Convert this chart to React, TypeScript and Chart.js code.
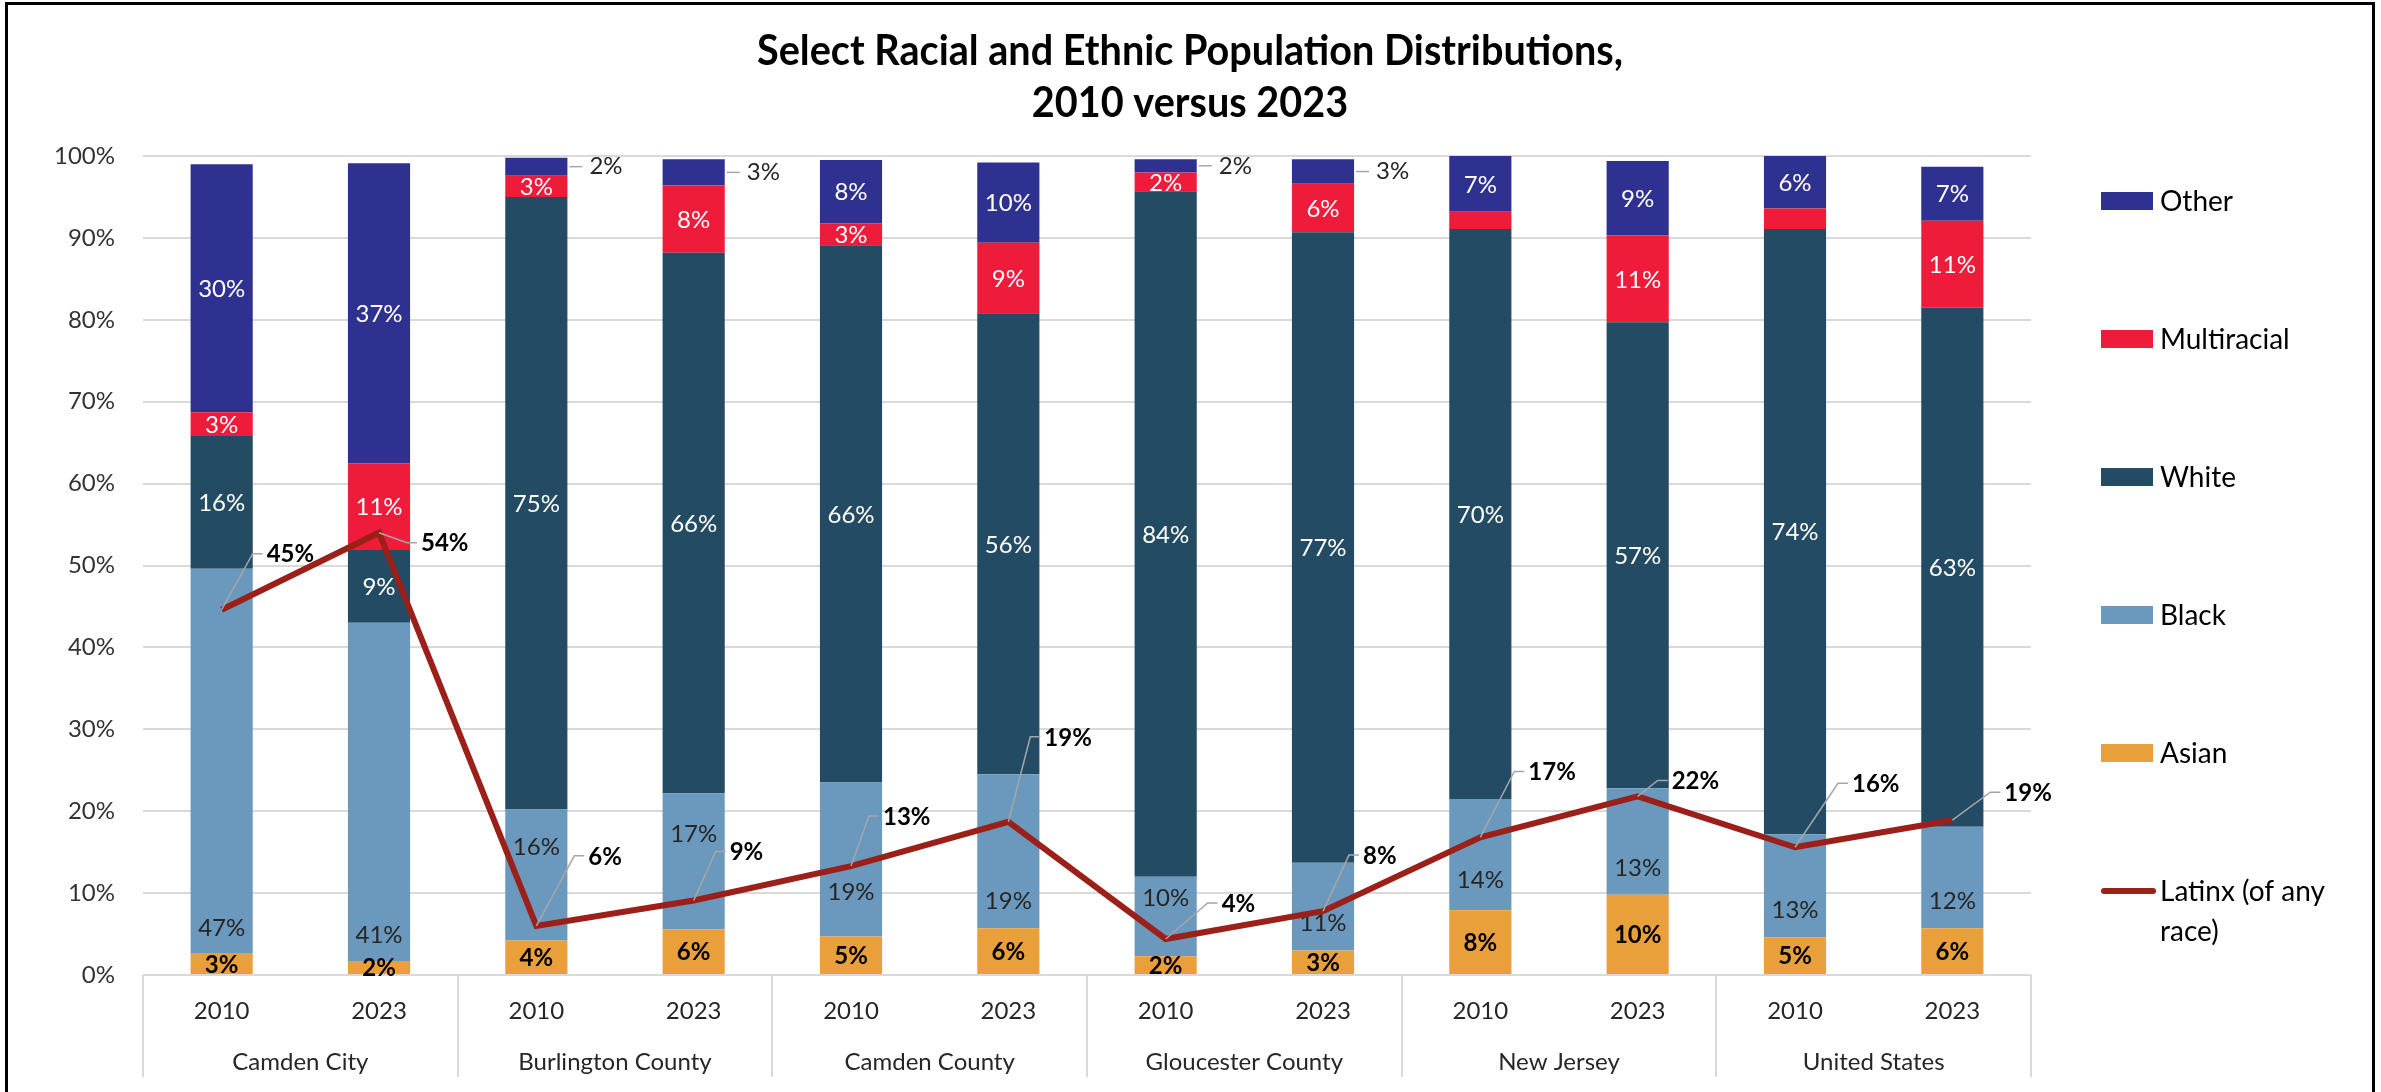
import React, { useEffect, useRef } from "react";
import { Chart, registerables } from "chart.js";

Chart.register(...registerables);

const groups = ["Camden City", "Burlington County", "Camden County", "Gloucester County", "New Jersey", "United States"];
const years = ["2010", "2023"];
const categories = groups.flatMap((g) => years.map((y) => `${g} ${y}`));

const asian = [2.6, 1.7, 4.2, 5.6, 4.7, 5.7, 2.3, 3.0, 7.9, 9.8, 4.6, 5.7];
const black = [47.0, 41.3, 16.0, 16.6, 18.8, 18.8, 9.7, 10.7, 13.6, 13.0, 12.6, 12.4];
const white = [16.2, 8.9, 74.8, 66.0, 65.6, 56.3, 83.7, 77.0, 69.6, 56.9, 73.9, 63.4];
const multiracial = [2.9, 10.6, 2.6, 8.2, 2.7, 8.6, 2.3, 5.9, 2.1, 10.6, 2.5, 10.6];
const other = [30.3, 36.6, 2.2, 3.2, 7.7, 9.8, 1.6, 3.0, 6.8, 9.1, 6.4, 6.6];
const latinx = [44.6, 54.0, 6.0, 9.1, 13.3, 18.7, 4.4, 7.8, 16.8, 21.8, 15.6, 18.9];

const yTicks = [0, 10, 20, 30, 40, 50, 60, 70, 80, 90, 100];
const hiddenMultiLabels = [8, 10];

const titleLines = ["Select Racial and Ethnic Population Distributions,", "2010 versus 2023"];

// Label placement, kept apart from the data.
const latinxLabelOffsets: [number, number][] = [
  [45, -56], [42, 10], [52, -70], [36, -49], [32, -50], [36, -85],
  [56, -36], [40, -56], [48, -66], [34, -16], [57, -64], [52, -28],
];
// Height (on the value axis) at which each "Black" label sits, as in the original.
const blackLabelLevels = [5.8, 5.0, 15.7, 17.3, 10.2, 9.1, 9.5, 6.4, 11.7, 13.1, 8.0, 9.1];

const COLORS = {
  asian: "#EAA03A",
  black: "#6A99BD",
  white: "#244B64",
  multi: "#EE1C3A",
  other: "#2F3190",
  latinx: "#9B2019",
  grid: "#D9D9D9",
  leader: "#A6A6A6",
};

const FONT = "Lato, 'Open Sans', sans-serif";

const pct = (v: number) => `${Math.round(v)}%`;

const overlayPlugin = {
  id: "overlay",
  beforeDatasetDraw(chart: any, args: any) {
    if (args.index !== 0) return;
    const ctx = chart.ctx;
    const ys = chart.scales.y;
    ctx.save();
    ctx.textBaseline = "middle";
    for (let d = 1; d <= 5; d++) {
      const meta = chart.getDatasetMeta(d);
      const values = chart.data.datasets[d].data as number[];
      meta.data.forEach((el: any, j: number) => {
        const v = values[j];
        let cy = (el.y + el.base) / 2;
        if (d === 4 && hiddenMultiLabels.includes(j)) return;
        if (d === 5 && v < 4) {
          const right = el.x + el.width / 2;
          ctx.strokeStyle = COLORS.leader;
          ctx.lineWidth = 1.5;
          ctx.beginPath();
          ctx.moveTo(right + 2, cy);
          ctx.lineTo(right + 15, cy);
          ctx.stroke();
          ctx.font = `24px ${FONT}`;
          ctx.fillStyle = "#262626";
          ctx.textAlign = "left";
          ctx.fillText(pct(v), right + 22, cy);
          return;
        }
        ctx.textAlign = "center";
        if (d === 1) {
          ctx.font = `bold 24px ${FONT}`;
          ctx.fillStyle = "#000";
        } else if (d === 2) {
          ctx.font = `24px ${FONT}`;
          ctx.fillStyle = "#262626";
          cy = ys.getPixelForValue(blackLabelLevels[j]);
        } else {
          ctx.font = `24px ${FONT}`;
          ctx.fillStyle = "#FFFFFF";
        }
        ctx.fillText(pct(v), el.x, cy + 1);
      });
    }
    ctx.restore();
  },
  afterDatasetsDraw(chart: any) {
    const ctx = chart.ctx;
    const meta = chart.getDatasetMeta(0);
    ctx.save();
    ctx.textBaseline = "middle";
    ctx.textAlign = "left";
    ctx.font = `bold 24px ${FONT}`;
    meta.data.forEach((p: any, j: number) => {
      const [dx, dy] = latinxLabelOffsets[j];
      ctx.strokeStyle = COLORS.leader;
      ctx.lineWidth = 1.5;
      ctx.beginPath();
      ctx.moveTo(p.x, p.y);
      ctx.lineTo(p.x + dx - 14, p.y + dy);
      ctx.lineTo(p.x + dx - 4, p.y + dy);
      ctx.stroke();
      ctx.fillStyle = "#000";
      ctx.fillText(pct(latinx[j]), p.x + dx, p.y + dy + 1);
    });
    ctx.restore();
  },
  afterDraw(chart: any) {
    const ctx = chart.ctx;
    const area = chart.chartArea;
    const xs = chart.scales.x;
    ctx.save();

    // Title
    ctx.fillStyle = "#000";
    ctx.textBaseline = "alphabetic";
    ctx.textAlign = "center";
    ctx.font = `bold 42px ${FONT}`;
    const w1 = ctx.measureText(titleLines[0]).width;
    const sx = 866 / w1;
    const cx = 1190;
    [65, 117].forEach((by, i) => {
      ctx.save();
      ctx.translate(cx, by);
      ctx.scale(sx, 1);
      ctx.fillText(titleLines[i], 0, 0);
      ctx.restore();
    });

    // X axis: year labels, group labels, separators
    ctx.fillStyle = "#262626";
    ctx.textBaseline = "middle";
    ctx.font = `24px ${FONT}`;
    categories.forEach((_, i) => {
      const x = xs.getPixelForValue(i);
      ctx.fillText(years[i % 2], x, 1011);
    });
    groups.forEach((g, k) => {
      const x = (xs.getPixelForValue(2 * k) + xs.getPixelForValue(2 * k + 1)) / 2;
      ctx.fillText(g, x, 1062);
    });
    const catW = (area.right - area.left) / categories.length;
    ctx.strokeStyle = COLORS.grid;
    ctx.lineWidth = 2;
    for (let k = 0; k <= groups.length; k++) {
      const x = Math.round(area.left + k * 2 * catW);
      ctx.beginPath();
      ctx.moveTo(x, area.bottom);
      ctx.lineTo(x, 1077);
      ctx.stroke();
    }

    // Legend
    const legend = [
      { label: ["Other"], color: COLORS.other, line: false },
      { label: ["Multiracial"], color: COLORS.multi, line: false },
      { label: ["White"], color: COLORS.white, line: false },
      { label: ["Black"], color: COLORS.black, line: false },
      { label: ["Asian"], color: COLORS.asian, line: false },
      { label: ["Latinx (of any", "race)"], color: COLORS.latinx, line: true },
    ];
    ctx.textAlign = "left";
    ctx.font = `28px ${FONT}`;
    legend.forEach((item, k) => {
      const y = 201 + k * 138;
      if (item.line) {
        ctx.strokeStyle = item.color;
        ctx.lineWidth = 6;
        ctx.lineCap = "round";
        ctx.beginPath();
        ctx.moveTo(2104, y);
        ctx.lineTo(2153, y);
        ctx.stroke();
      } else {
        ctx.fillStyle = item.color;
        ctx.fillRect(2101, y - 9, 52, 18);
      }
      ctx.fillStyle = "#000";
      item.label.forEach((t, li) => ctx.fillText(t, 2160, y + 1 + li * 40));
    });

    // Frame
    ctx.strokeStyle = "#000";
    ctx.lineWidth = 3;
    ctx.beginPath();
    ctx.moveTo(6.5, 1200);
    ctx.lineTo(6.5, 3.5);
    ctx.lineTo(2373.5, 3.5);
    ctx.lineTo(2373.5, 1200);
    ctx.stroke();

    ctx.restore();
  },
};

export default function App() {
  const ref = useRef<HTMLCanvasElement | null>(null);

  useEffect(() => {
    document.body.style.margin = "0";
    const canvas = ref.current;
    if (!canvas) return;
    const barDs = (label: string, data: number[], color: string) => ({
      type: "bar" as const,
      label,
      data,
      backgroundColor: color,
      borderWidth: 0,
      order: 1,
      stack: "pop",
      categoryPercentage: 1,
      barPercentage: 0.395,
    });
    const chart = new Chart(canvas, {
      type: "bar",
      data: {
        labels: categories,
        datasets: [
          {
            type: "line",
            label: "Latinx (of any race)",
            data: latinx,
            borderColor: COLORS.latinx,
            backgroundColor: COLORS.latinx,
            borderWidth: 6,
            pointRadius: 0,
            tension: 0,
            order: 0,
            stack: "latinx",
            borderJoinStyle: "miter",
          } as any,
          barDs("Asian", asian, COLORS.asian),
          barDs("Black", black, COLORS.black),
          barDs("White", white, COLORS.white),
          barDs("Multiracial", multiracial, COLORS.multi),
          barDs("Other", other, COLORS.other),
        ],
      },
      options: {
        animation: false,
        responsive: false,
        devicePixelRatio: 1,
        layout: { padding: { top: 156, right: 350, bottom: 0, left: 0 } },
        plugins: {
          legend: { display: false },
          title: { display: false },
          tooltip: { enabled: false },
        },
        scales: {
          x: {
            stacked: true,
            grid: { display: false },
            border: { display: false },
            ticks: { display: false },
            afterFit: (s: any) => {
              s.height = 117;
            },
          },
          y: {
            stacked: true,
            min: 0,
            max: 100,
            afterBuildTicks: (s: any) => {
              s.ticks = yTicks.map((v) => ({ value: v }));
            },
            ticks: {
              callback: (v: any) => `${v}%`,
              font: { family: FONT, size: 24 },
              color: "#333333",
              padding: 28,
            },
            grid: { color: COLORS.grid, lineWidth: 2, drawTicks: false },
            border: { display: false },
            afterFit: (s: any) => {
              s.width = 143;
            },
          },
        },
      } as any,
      plugins: [overlayPlugin],
    });
    return () => chart.destroy();
  }, []);

  return (
    <div style={{ position: "absolute", left: 0, top: 0, width: 2381, height: 1092, background: "#fff", overflow: "hidden" }}>
      <canvas ref={ref} width={2381} height={1092} style={{ display: "block", width: 2381, height: 1092 }} />
    </div>
  );
}
